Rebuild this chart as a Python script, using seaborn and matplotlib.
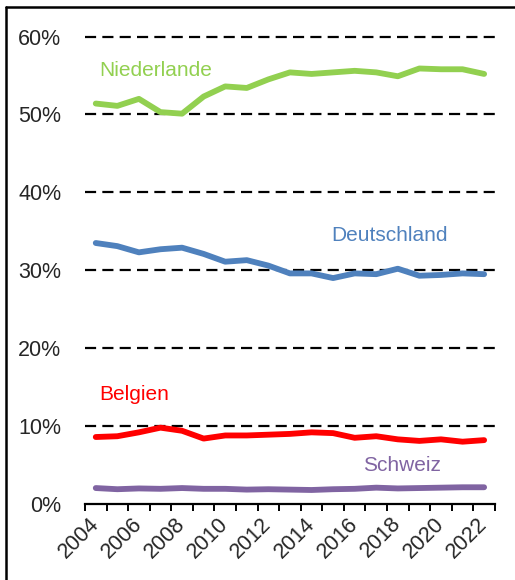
import numpy as np
import pandas as pd
import matplotlib
matplotlib.use("Agg")
import matplotlib.pyplot as plt
from matplotlib.lines import Line2D
from matplotlib.ticker import FixedLocator, PercentFormatter
import seaborn as sns

years = list(range(2004, 2023))
niederlande = [51.4, 51.1, 52.0, 50.3, 50.1, 52.3, 53.6, 53.4, 54.5, 55.4,
               55.2, 55.4, 55.6, 55.4, 54.9, 55.9, 55.8, 55.8, 55.2]
deutschland = [33.5, 33.1, 32.3, 32.7, 32.9, 32.1, 31.1, 31.3, 30.6, 29.6,
               29.6, 29.0, 29.6, 29.5, 30.2, 29.3, 29.4, 29.6, 29.5]
belgien = [8.6, 8.7, 9.2, 9.8, 9.4, 8.4, 8.8, 8.8, 8.9, 9.0,
           9.2, 9.1, 8.5, 8.7, 8.3, 8.1, 8.3, 8.0, 8.2]
schweiz = [2.05, 1.9, 2.0, 1.95, 2.05, 1.95, 1.95, 1.85, 1.9, 1.85,
           1.8, 1.9, 1.95, 2.1, 2.0, 2.05, 2.1, 2.15, 2.15]

laender = ["Niederlande", "Deutschland", "Belgien", "Schweiz"]
farben = {"Niederlande": "#92D050", "Deutschland": "#4F81BD",
          "Belgien": "#FF0000", "Schweiz": "#8064A2"}
# Position der Beschriftungen (Jahr, Wert in %)
label_pos = {"Niederlande": (2006.8, 55.7), "Deutschland": (2017.6, 34.4),
             "Belgien": (2005.8, 14.1), "Schweiz": (2018.2, 4.9)}

df = pd.DataFrame({
    "Jahr": years * 4,
    "Land": sum([[l] * len(years) for l in laender], []),
    "Anteil": niederlande + deutschland + belgien + schweiz,
})

sns.set_theme(style="white")
plt.rcParams["font.family"] = ["Liberation Sans", "DejaVu Sans"]

fig = plt.figure(figsize=(5.15, 5.8), dpi=100)
ax = fig.add_axes([0.165, 0.131, 0.796, 0.806])

for y in range(10, 61, 10):
    ax.axhline(y, color="black", lw=1.6, ls=(0, (5, 2.8)), zorder=1,
               clip_on=False)

sns.lineplot(data=df, x="Jahr", y="Anteil", hue="Land", palette=farben,
             linewidth=4.2, legend=False, ax=ax, zorder=3)
for line in ax.lines:
    line.set_solid_capstyle("round")
    line.set_solid_joinstyle("round")

for land, (x, y) in label_pos.items():
    ax.text(x, y, land, color=farben[land], fontsize=15,
            ha="center", va="center")

ax.set_xlim(2003.5, 2022.5)
ax.set_ylim(0, 60)
ax.yaxis.set_major_locator(FixedLocator(range(0, 61, 10)))
ax.yaxis.set_major_formatter(PercentFormatter(decimals=0))
ax.set_xticks(years[::2])
ax.set_xticks(np.arange(2003.5, 2023, 1), minor=True)
ax.tick_params(axis="x", which="major", length=0, pad=12, labelsize=15.5)
ax.tick_params(axis="x", which="minor", length=5, width=1.4,
               color="black", direction="out", bottom=True)
ax.tick_params(axis="y", length=0, pad=17, labelsize=15.5)
for lab in ax.get_xticklabels():
    lab.set_rotation(45)
    lab.set_ha("right")
    lab.set_va("center")
    lab.set_rotation_mode("anchor")
ax.set_xlabel("")
ax.set_ylabel("")
sns.despine(ax=ax, left=True)
ax.spines["bottom"].set_color("black")
ax.spines["bottom"].set_linewidth(1.6)

# Rahmen oben/links
fig.add_artist(Line2D([6 / 515, 6 / 515], [0, 1 - 7 / 580],
                      color="black", lw=1.8, transform=fig.transFigure))
fig.add_artist(Line2D([6 / 515, 1], [1 - 7 / 580, 1 - 7 / 580],
                      color="black", lw=1.8, transform=fig.transFigure))

fig.savefig("out.png", dpi=100)
